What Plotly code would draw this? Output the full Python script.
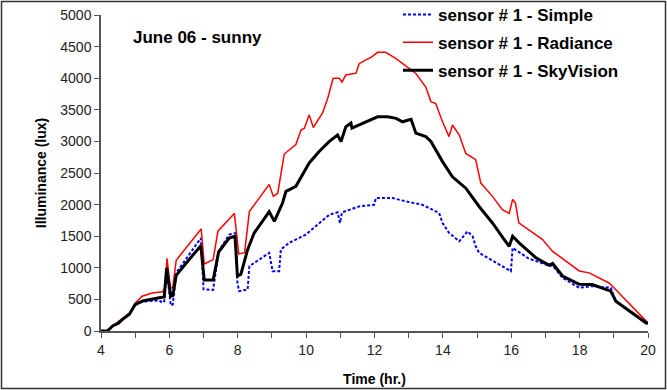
import plotly.graph_objects as go

# ---- data ----
t_simple = [4.0, 4.2, 4.35, 4.6, 4.85, 5.0, 5.22, 5.7, 5.8, 5.85, 5.92, 6.04, 6.1, 6.2, 6.5, 6.92,
            7.0, 7.28, 7.44, 7.75, 7.95, 7.99, 8.04, 8.29, 8.34, 8.63, 8.92, 9.02, 9.21, 9.26, 9.5,
            9.99, 10.28, 10.38, 10.68, 10.92, 10.99, 11.05, 11.55, 11.99, 12.04, 12.53, 12.92, 13.4,
            13.89, 13.99, 14.18, 14.48, 14.72, 14.87, 14.96, 15.06, 15.99, 16.04, 16.5, 17.11, 17.21,
            17.5, 17.99, 18.37, 18.91, 19.06, 19.94, 20.0]
simple = [0, 5, 80, 180, 280, 410, 465, 485, 447, 470, 975, 405, 420, 920, 1150, 1470,
          660, 650, 1260, 1525, 1550, 763, 631, 657, 1025, 1131, 1236, 946, 946, 1288, 1394,
          1525, 1656, 1709, 1840, 1877, 1709, 1877, 1971, 1998, 2103, 2103, 2050, 1998,
          1867, 1709, 1552, 1419, 1577, 1498, 1340, 1236, 946, 1315, 1150, 1030, 1036,
          840, 684, 710, 684, 470, 110, 100]

t_radiance = [4.0, 4.2, 4.35, 4.6, 4.85, 5.0, 5.2, 5.5, 5.8, 5.88, 5.93, 6.03, 6.1, 6.2, 6.5, 6.93,
              7.02, 7.28, 7.42, 7.6, 7.9, 8.03, 8.2, 8.34, 8.72, 8.92, 9.04, 9.17, 9.36, 9.55, 9.7,
              9.85, 9.95, 10.09, 10.21, 10.48, 10.63, 10.79, 10.97, 11.05, 11.16, 11.46, 11.55,
              11.75, 11.9, 12.09, 12.33, 12.63, 12.82, 13.21, 13.5, 13.65, 13.79, 13.99, 14.18,
              14.28, 14.48, 14.67, 14.96, 15.11, 15.45, 15.74, 15.94, 16.04, 16.12, 16.22, 16.91,
              17.21, 17.99, 18.28, 18.86, 19.01, 19.94, 20.0]
radiance = [0, 5, 80, 180, 290, 440, 550, 600, 620, 700, 1150, 680, 690, 1120, 1320, 1615,
            1060, 1130, 1580, 1680, 1860, 1220, 1240, 1890, 2160, 2320, 2130, 2180, 2800, 2880, 2950,
            3180, 3210, 3420, 3220, 3450, 3680, 4000, 4000, 3940, 4050, 4080, 4230,
            4290, 4330, 4410, 4410, 4310, 4230, 4075, 3860, 3630, 3600, 3310, 3075,
            3260, 3100, 2810, 2710, 2340, 2130, 1920, 1860, 2080, 2030, 1710, 1450,
            1260, 950, 920, 760, 680, 160, 130]

t_sky = [4.0, 4.2, 4.34, 4.5, 4.63, 4.83, 5.0, 5.22, 5.7, 5.85, 5.92, 6.04, 6.1, 6.2, 6.5, 6.92,
         7.02, 7.28, 7.44, 7.75, 7.92, 7.99, 8.09, 8.29, 8.48, 8.72, 8.92, 9.07, 9.31, 9.41, 9.61,
         9.7, 10.09, 10.38, 10.68, 10.92, 11.02, 11.16, 11.31, 11.34, 11.75, 12.09, 12.39, 12.63,
         12.82, 13.07, 13.21, 13.5, 13.65, 13.99, 14.28, 14.67, 15.06, 15.45, 15.79, 15.94, 16.04,
         16.23, 16.72, 17.11, 17.21, 17.5, 17.99, 18.37, 18.91, 19.06, 19.94, 20.0]
skyvision = [0, 5, 80, 120, 185, 265, 420, 475, 525, 540, 1000, 550, 560, 880, 1080, 1350,
             805, 805, 1250, 1470, 1500, 870, 895, 1290, 1550, 1735, 1890, 1735, 2025, 2210, 2260,
             2290, 2660, 2840, 3000, 3100, 2996, 3230, 3290, 3210, 3310, 3390, 3390, 3365,
             3310, 3350, 3130, 3075, 3000, 2680, 2440, 2260, 1970, 1710, 1450, 1340, 1500,
             1395, 1160, 1040, 1070, 870, 740, 736, 630, 470, 130, 120]

names = ["sensor # 1 - Simple", "sensor # 1 - Radiance", "sensor # 1 - SkyVision"]

fig = go.Figure()
fig.add_trace(go.Scatter(x=t_simple, y=simple, mode="lines", name=names[0],
                         line=dict(color="#0000FF", width=2, dash="3px,2px"), legend="legend"))
fig.add_trace(go.Scatter(x=t_radiance, y=radiance, mode="lines", name=names[1],
                         line=dict(color="#FF0000", width=1.5), legend="legend2"))
fig.add_trace(go.Scatter(x=t_sky, y=skyvision, mode="lines", name=names[2],
                         line=dict(color="#000000", width=3), legend="legend3"))

W, H = 667, 390
L, R, T, B = 101, 19, 15, 59
pw, ph = W - L - R, H - T - B
FONT = "Liberation Sans, Arial"


def px2paper(px, py):
    return (px - L) / pw, (H - B - py) / ph


legs = {}
for key, py in zip(["legend", "legend2", "legend3"], [15, 42.7, 70.7]):
    lx, ly = px2paper(398, py)
    legs[key] = dict(x=lx, y=ly, xanchor="left", yanchor="middle", bgcolor="rgba(0,0,0,0)",
                     font=dict(family=FONT, size=17, color="#000000", weight="bold"),
                     borderwidth=0, itemwidth=30)

bx0, by0 = px2paper(1.5, 1.5)
bx1, by1 = px2paper(665.5, 388.5)
tx, ty = px2paper(131, 37)

fig.update_layout(
    width=W, height=H,
    margin=dict(l=L, r=R, t=T, b=B, autoexpand=False),
    paper_bgcolor="white", plot_bgcolor="white",
    showlegend=True,
    **legs,
    xaxis=dict(range=[4, 20], tick0=4, dtick=2, ticks="outside", ticklen=5, tickcolor="#555555",
               showline=True, linecolor="#555555", linewidth=1.5, showgrid=False, zeroline=False,
               tickfont=dict(family=FONT, size=14, color="#222"),
               minor=dict(dtick=1, ticks="outside", ticklen=5, tickcolor="#555555", showgrid=False),
               title=dict(text="<b>Time (hr.)</b>", font=dict(family=FONT, size=14, color="#000"),
                          standoff=18)),
    yaxis=dict(range=[0, 5000], dtick=500, ticks="outside", ticklen=5, tickcolor="#555555",
               showline=True, linecolor="#555555", linewidth=1.5, showgrid=False, zeroline=False,
               tickfont=dict(family=FONT, size=14, color="#222"),
               title=dict(text="<b>Illuminance (lux)</b>", font=dict(family=FONT, size=14, color="#000"),
                          standoff=10)),
    annotations=[dict(x=tx, y=ty, xref="paper", yref="paper", xanchor="left", yanchor="middle",
                      text="<b>June 06 - sunny</b>", showarrow=False,
                      font=dict(family=FONT, size=17, color="#000"))],
    shapes=[dict(type="rect", xref="paper", yref="paper", x0=bx0, y0=by0, x1=bx1, y1=by1,
                 line=dict(color="#333333", width=1.5), fillcolor="rgba(0,0,0,0)", layer="above")],
)

fig.write_html("out.html")
